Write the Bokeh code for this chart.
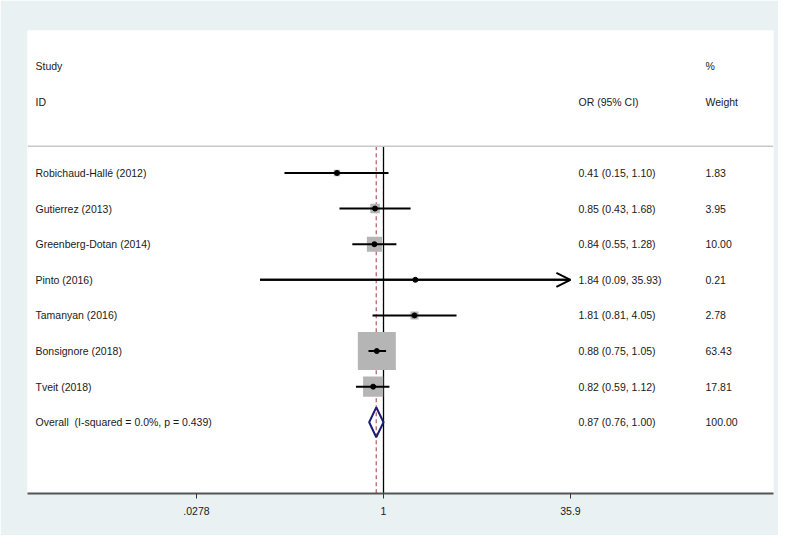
import math
from bokeh.plotting import figure
from bokeh.models import Range1d, FixedTicker, ColumnDataSource, Arrow, OpenHead, Span
from bokeh.core.properties import value
from bokeh.embed import file_html
from bokeh.resources import INLINE

# ---------------- data ----------------
studies = ["Robichaud-Hallé (2012)", "Gutierrez (2013)", "Greenberg-Dotan (2014)",
           "Pinto (2016)", "Tamanyan (2016)", "Bonsignore (2018)", "Tveit (2018)"]
odds = [0.41, 0.85, 0.84, 1.84, 1.81, 0.88, 0.82]
ci_low = [0.15, 0.43, 0.55, 0.094, 0.81, 0.75, 0.59]
ci_high = [1.10, 1.68, 1.28, 35.93, 4.05, 1.05, 1.12]
weights = [1.83, 3.95, 10.00, 0.21, 2.78, 63.43, 17.81]

overall_label = "Overall \u00a0(I-squared = 0.0%, p = 0.439)"
overall_or = 0.87
overall_low = 0.76
overall_high = 1.00
overall_weight = 100.00

tick_values = [0.0278, 1, 35.9]
tick_labels = [".0278", "1", "35.9"]

# ---------------- layout constants ----------------
FONT = value("Liberation Sans")
FS = "10.5px"
TXT = "#1a1a1a"
x_min = math.exp(-6.82)
x_max_axis = 35.9
x_end = math.exp(7.471)
first_row = 3
rows = [first_row + i for i in range(len(studies))]
overall_row = first_row + len(studies)
header_line_row = 2.25
y_bottom = 12

p = figure(width=778, height=535, x_axis_type="log",
           x_range=Range1d(x_min, x_end), y_range=Range1d(y_bottom, -1),
           y_axis_location=None, toolbar_location=None, output_backend="svg",
           min_border_left=27, min_border_right=5, min_border_top=30, min_border_bottom=42,
           background_fill_color="white", border_fill_color="#eaf1f3",
           outline_line_color=None)
p.grid.visible = False

ax = p.xaxis[0]
ax.ticker = FixedTicker(ticks=tick_values, minor_ticks=[])
ax.major_label_overrides = {v: l for v, l in zip(tick_values, tick_labels)}
ax.major_tick_in = 0
ax.major_tick_out = 5
ax.minor_tick_line_color = None
ax.major_tick_line_color = "#333333"
ax.axis_line_color = "#555555"
ax.axis_line_width = 2
ax.major_label_text_font = "Liberation Sans"
ax.major_label_text_font_size = FS
ax.major_label_text_color = TXT
ax.major_label_standoff = 8

# header separator
p.add_layout(Span(location=header_line_row, dimension="width", line_color="#c8c8c8", line_width=1.5))

# reference lines
p.segment(x0=[overall_or], y0=[header_line_row], x1=[overall_or], y1=[y_bottom],
          line_color="#b05a62", line_width=1.2, line_dash="4 3")
p.segment(x0=[1], y0=[header_line_row], x1=[1], y1=[y_bottom],
          line_color="black", line_width=1.3)

# study boxes
max_w = max(weights)
sizes = [38 * math.sqrt(w / max_w) for w in weights]
hi_clip = [min(h, x_max_axis) for h in ci_high]
src = ColumnDataSource(dict(y=rows, orr=odds, lo=ci_low, hi=hi_clip, size=sizes))
p.scatter(x="orr", y="y", size="size", marker="square", source=src,
          fill_color="#b5b5b5", line_color=None)
p.segment(x0="lo", y0="y", x1="hi", y1="y", source=src, line_color="black", line_width=2)
p.scatter(x="orr", y="y", size=5, marker="circle", source=src,
          fill_color="black", line_color="black")

# arrows for clipped CIs
clip_idx = [i for i, h in enumerate(ci_high) if h > x_max_axis]
asrc = ColumnDataSource(dict(x0=[ci_low[i] for i in clip_idx],
                             x1=[x_max_axis for i in clip_idx],
                             y=[rows[i] for i in clip_idx]))
p.add_layout(Arrow(end=OpenHead(size=14, line_width=2, line_color="black"),
                   x_start="x0", y_start="y", x_end="x1", y_end="y", source=asrc,
                   line_color="black", line_width=2))

# overall diamond
h = 0.42
p.patch(x=[overall_low, overall_or, overall_high, overall_or],
        y=[overall_row, overall_row - h, overall_row, overall_row + h],
        fill_color=None, line_color="#1c1c72", line_width=2)

# texts
def fmt_ci(o, l, hh):
    return f"{o:.2f} ({l:.2f}, {hh:.2f})"

names = ["Study", "ID"] + studies + [overall_label]
name_rows = [0, 1] + rows + [overall_row]
p.text(x=[x_min] * len(names), y=name_rows, text=names, x_offset=8,
       text_font=FONT, text_font_size=FS, text_baseline="middle", text_color=TXT)

ci_texts = ["OR (95% CI)"] + [fmt_ci(o, l, hh) for o, l, hh in zip(odds, ci_low, ci_high)] + \
           [fmt_ci(overall_or, overall_low, overall_high)]
ci_rows = [1] + rows + [overall_row]
p.text(x=[x_min] * len(ci_texts), y=ci_rows, text=ci_texts, x_offset=551,
       text_font=FONT, text_font_size=FS, text_baseline="middle", text_color=TXT)

w_texts = ["%", "Weight"] + [f"{w:.2f}" for w in weights] + [f"{overall_weight:.2f}"]
w_rows = [0, 1] + rows + [overall_row]
p.text(x=[x_min] * len(w_texts), y=w_rows, text=w_texts, x_offset=678,
       text_font=FONT, text_font_size=FS, text_baseline="middle", text_color=TXT)

open("out.html", "w").write(file_html(p, INLINE))
